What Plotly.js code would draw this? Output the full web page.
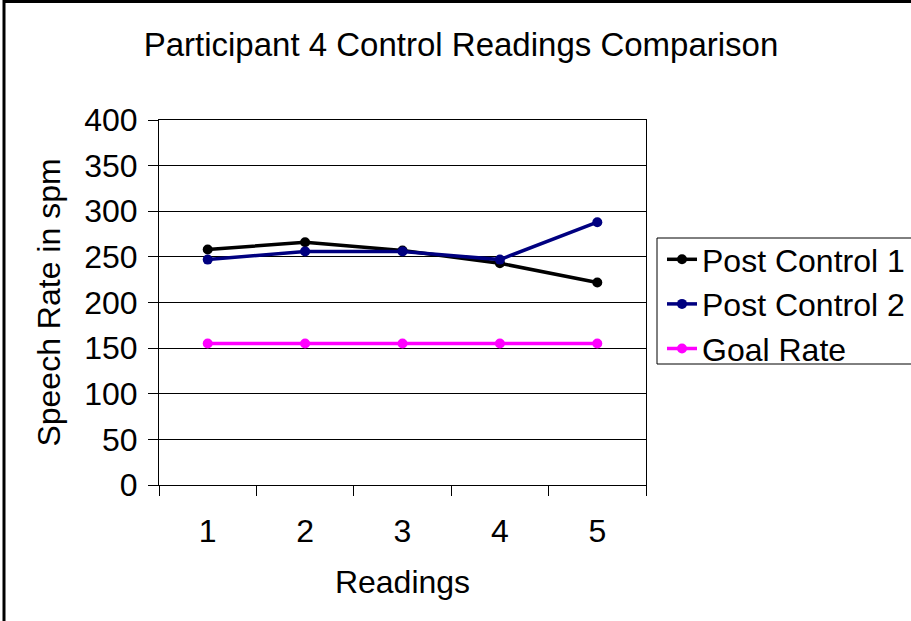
<!DOCTYPE html>
<html>
<head>
<meta charset="utf-8">
<script src="https://cdn.plot.ly/plotly-3.0.1.min.js"></script>
<style>
  html, body { margin: 0; padding: 0; background: #fff; }
  #chart { width: 911px; height: 621px; }
</style>
</head>
<body>
<div id="chart"></div>
<script>
// Readings 1–5 and the speech rate (spm) recorded at each one
const readings = [1, 2, 3, 4, 5];
const readingLabels = ['1', '2', '3', '4', '5'];
const postControl1 = [258, 266, 257, 243, 222];
const postControl2 = [247, 256, 256, 247, 288];
const goalRate = [155, 155, 155, 155, 155];
const categoryEdges = [0.5, 1.5, 2.5, 3.5, 4.5, 5.5];
const yTicks = [0, 50, 100, 150, 200, 250, 300, 350, 400];

const FONT = 'Liberation Sans, Arial, sans-serif';
const FS = 32;

// plot-area box in pixels, used to place the frame and legend in paper units
const PL = 159, PR = 646, PT = 120, PB = 485;
const px = v => (v - PL) / (PR - PL);
const py = v => (PB - v) / (PB - PT);

function series(name, values, color) {
  return {
    type: 'scatter',
    mode: 'lines+markers',
    name: name,
    x: readings,
    y: values,
    line: { color: color, width: 3.5 },
    marker: { color: color, size: 10 },
    xaxis: 'x',
    yaxis: 'y'
  };
}

const traces = [
  series('Post Control 1', postControl1, '#000000'),
  series('Post Control 2', postControl2, '#000080'),
  series('Goal Rate', goalRate, '#FF00FF')
];

// empty trace so the category-edge tick axis is drawn
traces.push({
  type: 'scatter', x: [], y: [], xaxis: 'x2', yaxis: 'y',
  showlegend: false, hoverinfo: 'skip'
});

const layout = {
  width: 911,
  height: 621,
  margin: { l: PL, r: 911 - PR, t: PT, b: 621 - PB, pad: 0, autoexpand: false },
  paper_bgcolor: '#ffffff',
  plot_bgcolor: '#ffffff',
  font: { family: FONT, size: FS, color: '#000000' },
  title: {
    text: 'Participant 4 Control Readings Comparison',
    font: { family: FONT, size: 33, color: '#000000' },
    x: 461 / 911,
    xanchor: 'center',
    y: 1 - 44 / 621,
    yanchor: 'middle'
  },
  showlegend: true,
  legend: {
    x: px(662),
    xanchor: 'left',
    y: py(232),
    yanchor: 'top',
    bgcolor: 'rgba(0,0,0,0)',
    borderwidth: 0,
    font: { family: FONT, size: FS, color: '#000000' },
    itemwidth: 30,
    tracegroupgap: 0
  },
  xaxis: {
    range: [0.5, 5.5],
    tickmode: 'array',
    tickvals: readings,
    ticktext: readingLabels,
    ticks: '',
    ticklabelstandoff: 18,
    showgrid: false,
    zeroline: false,
    showline: true,
    linecolor: '#000000',
    linewidth: 1,
    mirror: true,
    automargin: false,
    tickfont: { family: FONT, size: FS, color: '#000000' },
    title: {
      text: 'Readings',
      font: { family: FONT, size: FS, color: '#000000' },
      standoff: 22
    },
    fixedrange: true
  },
  xaxis2: {
    overlaying: 'x',
    anchor: 'y',
    side: 'bottom',
    matches: 'x',
    range: [0.5, 5.5],
    tickmode: 'array',
    tickvals: categoryEdges,
    ticks: 'outside',
    ticklen: 10,
    tickwidth: 1,
    tickcolor: '#000000',
    showticklabels: false,
    showgrid: false,
    zeroline: false,
    showline: false
  },
  yaxis: {
    range: [0, 400],
    tickmode: 'array',
    tickvals: yTicks,
    ticks: 'outside',
    ticklen: 10,
    tickwidth: 1,
    tickcolor: '#000000',
    ticklabelstandoff: 4,
    showgrid: true,
    gridcolor: '#000000',
    gridwidth: 1,
    zeroline: false,
    showline: true,
    linecolor: '#000000',
    linewidth: 1,
    mirror: true,
    automargin: false,
    tickfont: { family: FONT, size: FS, color: '#000000' },
    title: {
      text: 'Speech Rate in spm',
      font: { family: FONT, size: FS, color: '#000000' },
      standoff: 14
    },
    fixedrange: true
  },
  shapes: [
    {
      // outer chart frame
      type: 'rect',
      xref: 'paper', yref: 'paper',
      x0: px(4), x1: px(915),
      y0: py(630), y1: py(1.5),
      line: { color: '#000000', width: 3 },
      fillcolor: 'rgba(0,0,0,0)',
      layer: 'above'
    },
    {
      // legend box
      type: 'rect',
      xref: 'paper', yref: 'paper',
      x0: px(657), x1: px(920),
      y0: py(364), y1: py(238),
      line: { color: '#000000', width: 1 },
      fillcolor: 'rgba(0,0,0,0)',
      layer: 'above'
    }
  ]
};

Plotly.newPlot('chart', traces, layout, { displayModeBar: false, staticPlot: true });
</script>
</body>
</html>
